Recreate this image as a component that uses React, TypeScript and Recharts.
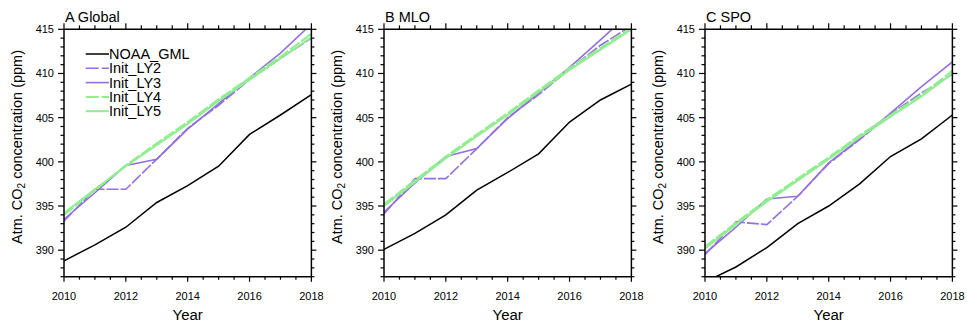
import { LineChart, Line, XAxis, YAxis } from "recharts";

const FONT = '"Liberation Sans", Arial, Helvetica, sans-serif';

const years = [2010, 2011, 2012, 2013, 2014, 2015, 2016, 2017, 2018];
const xMajorTicks = [2010, 2012, 2014, 2016, 2018];
const xTicks = [2010, 2010.5, 2011, 2011.5, 2012, 2012.5, 2013, 2013.5, 2014, 2014.5, 2015, 2015.5, 2016, 2016.5, 2017, 2017.5, 2018];
const yMajorTicks = [390, 395, 400, 405, 410, 415];
const yTicks = Array.from({ length: 29 }, (_, i) => 387 + i);

// A Global
const globalNoaa = [388.8, 390.6, 392.6, 395.4, 397.3, 399.5, 403.1, 405.3, 407.6];
const globalLY2 = [393.3, 396.9, 396.9, 400.3, 403.8, 406.4, 409.3, 411.7, 414.0];
const globalLY3 = [393.5, 396.5, 399.6, 400.3, 403.7, 406.6, 409.5, 412.3, 415.6];
const globalLY4 = [394.0, 396.8, 399.6, 402.1, 404.5, 407.1, 409.5, 411.9, 414.5];
const globalLY5 = [394.2, 396.9, 399.5, 401.9, 404.3, 406.9, 409.3, 411.7, 414.1];

// B MLO
const mloNoaa = [390.1, 391.9, 394.0, 396.8, 398.8, 400.9, 404.5, 407.0, 408.8];
const mloLY2 = [394.1, 398.1, 398.1, 401.5, 405.0, 407.6, 410.5, 413.2, 415.4];
const mloLY3 = [394.3, 397.6, 400.6, 401.5, 404.9, 407.8, 410.7, 413.8, 417.0];
const mloLY4 = [395.2, 397.9, 400.6, 403.1, 405.5, 408.1, 410.6, 412.9, 415.2];
const mloLY5 = [395.0, 397.7, 400.4, 402.9, 405.3, 407.9, 410.4, 412.7, 415.0];

// C SPO
const spoNoaa = [386.4, 388.1, 390.3, 393.0, 395.0, 397.5, 400.6, 402.6, 405.3];
const spoLY2 = [389.5, 393.2, 392.9, 396.1, 399.8, 402.5, 405.4, 407.8, 409.9];
const spoLY3 = [389.6, 392.6, 395.8, 396.1, 399.9, 402.6, 405.5, 408.5, 411.3];
const spoLY4 = [390.4, 393.1, 395.7, 398.1, 400.5, 403.0, 405.3, 407.6, 410.3];
const spoLY5 = [390.2, 392.9, 395.5, 397.9, 400.3, 402.8, 405.1, 407.4, 410.0];

const series = [
  { key: "noaa", name: "NOAA_GML", color: "#000000", width: 1.5, dash: undefined },
  { key: "ly2", name: "Init_LY2", color: "#9370db", width: 1.6, dash: "12 2" },
  { key: "ly3", name: "Init_LY3", color: "#9370db", width: 1.6, dash: undefined },
  { key: "ly4", name: "Init_LY4", color: "#90ee90", width: 2, dash: "12 2" },
  { key: "ly5", name: "Init_LY5", color: "#90ee90", width: 2, dash: undefined },
];

const CHART_W = 323.4;
const AXIS = { stroke: "#000", strokeWidth: 1.5 };

const bottomTick = (p: any) => {
  const major = xMajorTicks.includes(p.payload.value);
  return (
    <g>
      <line x1={p.x} x2={p.x} y1={p.y} y2={p.y + (major ? 5 : 3)} stroke="#000" strokeWidth={1.2} />
      {major && (
        <text x={p.x} y={p.y + 23} textAnchor="middle" fontSize={11} fontFamily={FONT} fill="#000">
          {p.payload.value}
        </text>
      )}
    </g>
  );
};

const topTick = (p: any) => {
  const major = xMajorTicks.includes(p.payload.value);
  return <line x1={p.x} x2={p.x} y1={p.y} y2={p.y - (major ? 6 : 4)} stroke="#000" strokeWidth={1.2} />;
};

const leftTick = (p: any) => {
  const major = yMajorTicks.includes(p.payload.value);
  return (
    <g>
      <line x1={p.x} x2={p.x - (major ? 6 : 3.5)} y1={p.y} y2={p.y} stroke="#000" strokeWidth={1.2} />
      {major && (
        <text x={p.x - 10} y={p.y + 4} textAnchor="end" fontSize={11} fontFamily={FONT} fill="#000">
          {p.payload.value}
        </text>
      )}
    </g>
  );
};

const rightTick = (p: any) => {
  const major = yMajorTicks.includes(p.payload.value);
  return <line x1={p.x} x2={p.x + (major ? 5 : 3)} y1={p.y} y2={p.y} stroke="#000" strokeWidth={1.2} />;
};

function Legend() {
  return (
    <svg width={CHART_W} height={324} style={{ position: "absolute", left: 0, top: 0, pointerEvents: "none" }}>
      {series.map((s, i) => {
        const cy = 54 + i * 14.3;
        return (
          <g key={s.key}>
            <line x1={81.7} x2={105} y1={cy} y2={cy} stroke={s.color} strokeWidth={s.width} strokeDasharray={s.dash ? "13 3" : undefined} />
            <text x={105} y={cy + 5} fontSize={14.5} fontFamily={FONT} fill="#000">
              {s.name}
            </text>
          </g>
        );
      })}
    </svg>
  );
}

interface PanelProps {
  left: number;
  title: string;
  values: number[][];
  legend?: boolean;
}

function Panel({ left, title, values, legend }: PanelProps) {
  const data = years.map((year, i) => ({
    year,
    noaa: values[0][i],
    ly2: values[1][i],
    ly3: values[2][i],
    ly4: values[3][i],
    ly5: values[4][i],
  }));

  return (
    <div style={{ position: "absolute", left, top: 0, width: CHART_W, height: 324 }}>
      <LineChart width={CHART_W} height={324} data={data} margin={{ top: 21.3, right: 8, bottom: 17.3, left: 24 }}>
        <XAxis
          xAxisId="b"
          dataKey="year"
          type="number"
          domain={[2010, 2018]}
          ticks={xTicks}
          interval={0}
          allowDataOverflow
          height={30}
          tickSize={0}
          tickMargin={0}
          tickLine={false}
          axisLine={AXIS}
          tick={bottomTick}
          label={(p: any) => (
            <text x={p.viewBox.x + p.viewBox.width / 2} y={p.viewBox.y + 43.3} textAnchor="middle" fontSize={15} fontFamily={FONT} fill="#000">
              Year
            </text>
          )}
        />
        <XAxis
          xAxisId="t"
          orientation="top"
          dataKey="year"
          type="number"
          domain={[2010, 2018]}
          ticks={xTicks}
          interval={0}
          allowDataOverflow
          height={8}
          tickSize={0}
          tickMargin={0}
          tickLine={false}
          axisLine={AXIS}
          tick={topTick}
          label={(p: any) => (
            <text x={p.viewBox.x + 1} y={p.viewBox.y + p.viewBox.height - 7.5} fontSize={14.5} fontFamily={FONT} fill="#000">
              {title}
            </text>
          )}
        />
        <YAxis
          yAxisId="l"
          type="number"
          domain={[387, 415]}
          ticks={yTicks}
          interval={0}
          allowDataOverflow
          width={36}
          tickSize={0}
          tickMargin={0}
          tickLine={false}
          axisLine={AXIS}
          tick={leftTick}
          label={(p: any) => (
            <text
              transform={`translate(${p.viewBox.x - 5.8}, ${p.viewBox.y + p.viewBox.height / 2 - 6}) rotate(-90)`}
              textAnchor="middle"
              fontSize={14.5}
              fontFamily={FONT}
              fill="#000"
            >
              Atm. CO
              <tspan fontSize={10} dy={3}>2</tspan>
              <tspan dy={-3}> concentration (ppm)</tspan>
            </text>
          )}
        />
        <YAxis
          yAxisId="r"
          orientation="right"
          type="number"
          domain={[387, 415]}
          ticks={yTicks}
          interval={0}
          allowDataOverflow
          width={8}
          tickSize={0}
          tickMargin={0}
          tickLine={false}
          axisLine={AXIS}
          tick={rightTick}
        />
        {series.map((s) => (
          <Line
            key={s.key}
            xAxisId="b"
            yAxisId="l"
            type="linear"
            dataKey={s.key}
            name={s.name}
            stroke={s.color}
            strokeWidth={s.width}
            strokeDasharray={s.dash}
            dot={false}
            isAnimationActive={false}
          />
        ))}
      </LineChart>
      {legend && <Legend />}
    </div>
  );
}

export default function App() {
  return (
    <div style={{ position: "absolute", left: 0, top: 0, width: 967, height: 324, background: "#fff", overflow: "hidden" }}>
      <Panel left={4.3} title="A Global" values={[globalNoaa, globalLY2, globalLY3, globalLY4, globalLY5]} legend />
      <Panel left={324.3} title="B MLO" values={[mloNoaa, mloLY2, mloLY3, mloLY4, mloLY5]} />
      <Panel left={645.3} title="C SPO" values={[spoNoaa, spoLY2, spoLY3, spoLY4, spoLY5]} />
    </div>
  );
}
